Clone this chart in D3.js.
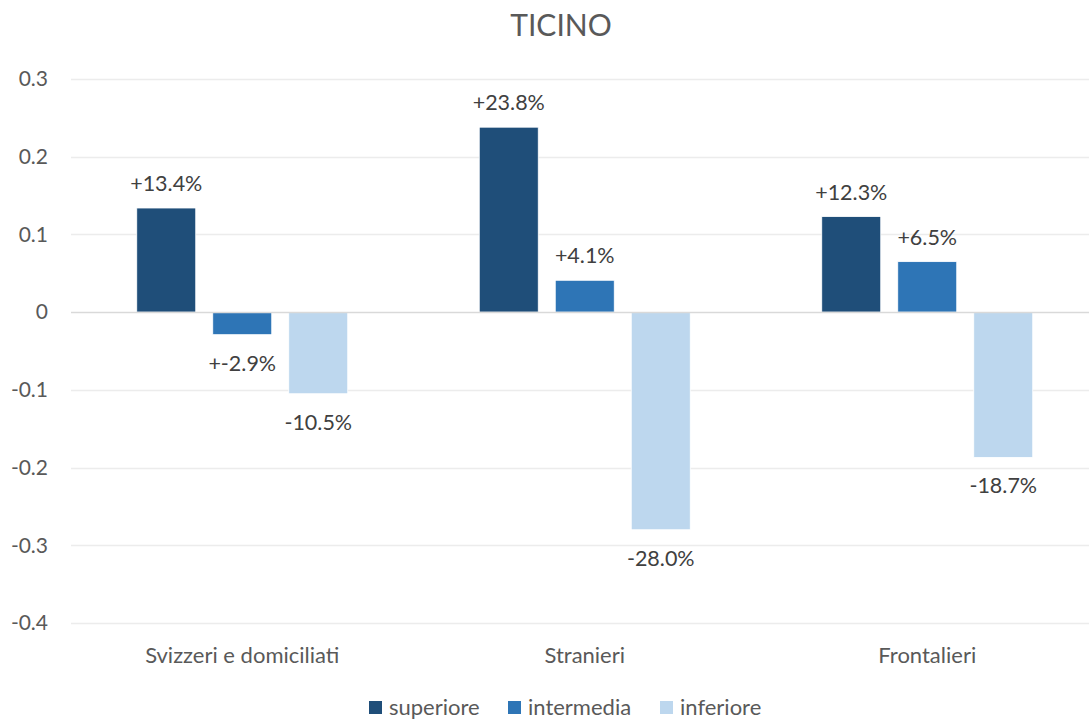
<!DOCTYPE html>
<html>
<head>
<meta charset="utf-8">
<script src="https://cdn.jsdelivr.net/npm/d3@7"></script>
<style>
  html, body { margin: 0; padding: 0; background: #fff; }
  svg { display: block; font-family: Lato, "Open Sans", sans-serif; }
</style>
</head>
<body>
<svg id="chart" width="1089" height="720"></svg>
<script>
const title = "TICINO";
const categories = ["Svizzeri e domiciliati", "Stranieri", "Frontalieri"];
const seriesNames = ["superiore", "intermedia", "inferiore"];
const superiore = [0.134, 0.238, 0.123];
const intermedia = [-0.029, 0.041, 0.065];
const inferiore = [-0.105, -0.280, -0.187];
const superioreLabels = ["+13.4%", "+23.8%", "+12.3%"];
const intermediaLabels = ["+-2.9%", "+4.1%", "+6.5%"];
const inferioreLabels = ["-10.5%", "-28.0%", "-18.7%"];
const yTicks = [0.3, 0.2, 0.1, 0, -0.1, -0.2, -0.3, -0.4];
const yTickLabels = ["0.3", "0.2", "0.1", "0", "-0.1", "-0.2", "-0.3", "-0.4"];
const colors = ["#1f4e79", "#2e75b6", "#bdd7ee"];

(function () {
const seriesValues = [superiore, intermedia, inferiore];
const seriesLabels = [superioreLabels, intermediaLabels, inferioreLabels];

const svg = d3.select("#chart");
const W = 1089;
const pLeft = 71, pRight = 1098.5, pTop = 79, pBottom = 623;

const y = d3.scaleLinear().domain([-0.4, 0.3]).range([pBottom, pTop]);
const x0 = d3.scaleBand().domain(categories).range([pLeft, pRight]).paddingInner(0).paddingOuter(0);
const bw = x0.bandwidth();
const pi = 17 / 76;
const po = (bw / 76 - 3 + pi) / 2;
const x1 = d3.scaleBand().domain(seriesNames).range([0, bw]).paddingInner(pi).paddingOuter(po);
const color = d3.scaleOrdinal().domain(seriesNames).range(colors);

// title
svg.append("text")
  .attr("x", 561).attr("y", 36)
  .attr("text-anchor", "middle")
  .attr("fill", "#595959")
  .attr("font-size", 30)
  .text(title);

// gridlines
svg.append("g").selectAll("line").data(yTicks.filter(d => d !== 0)).join("line")
  .attr("x1", pLeft).attr("x2", W)
  .attr("y1", d => Math.round(y(d)) + 0.5).attr("y2", d => Math.round(y(d)) + 0.5)
  .attr("stroke", "#ececec").attr("stroke-width", 1.5);

// y axis labels
const yAxis = d3.axisLeft(y).tickValues(yTicks).tickSize(0).tickPadding(0)
  .tickFormat((d, i) => yTickLabels[i]);
const yg = svg.append("g").attr("transform", "translate(48,0)").call(yAxis);
yg.select(".domain").remove();
yg.selectAll("text").attr("font-size", 21).attr("fill", "#595959")
  .attr("font-family", "Lato, 'Open Sans', sans-serif");

// bars
const data = [];
seriesNames.forEach((s, si) => {
  categories.forEach((c, ci) => {
    data.push({ series: s, cat: c, value: seriesValues[si][ci], label: seriesLabels[si][ci] });
  });
});

svg.append("g").selectAll("rect").data(data).join("rect")
  .attr("x", d => x0(d.cat) + x1(d.series))
  .attr("width", x1.bandwidth())
  .attr("y", d => Math.min(y(d.value), y(0)))
  .attr("height", d => Math.abs(y(d.value) - y(0)))
  .attr("fill", d => color(d.series))
  .attr("stroke", "#ffffff").attr("stroke-width", 0.8);

// zero line
svg.append("line")
  .attr("x1", pLeft).attr("x2", W)
  .attr("y1", Math.round(y(0)) + 0.5).attr("y2", Math.round(y(0)) + 0.5)
  .attr("stroke", "#d9d9d9").attr("stroke-width", 1.5);

// data labels
svg.append("g").selectAll("text").data(data).join("text")
  .attr("x", d => x0(d.cat) + x1(d.series) + x1.bandwidth() / 2)
  .attr("y", d => d.value >= 0 ? y(d.value) - 17 : y(d.value) + 36)
  .attr("text-anchor", "middle")
  .attr("font-size", 21.5)
  .attr("fill", "#404040")
  .text(d => d.label);

// category labels
const xAxis = d3.axisBottom(x0).tickSize(0).tickPadding(0);
const xg = svg.append("g").attr("transform", "translate(0,647)").call(xAxis);
xg.select(".domain").remove();
xg.selectAll("text").attr("font-size", 22).attr("fill", "#595959")
  .attr("font-family", "Lato, 'Open Sans', sans-serif");

// legend
const legendX = [369, 508, 660];
const lg = svg.append("g");
seriesNames.forEach((s, i) => {
  lg.append("rect").attr("x", legendX[i]).attr("y", 701).attr("width", 13).attr("height", 13)
    .attr("fill", color(s));
  lg.append("text").attr("x", legendX[i] + 20).attr("y", 715)
    .attr("font-size", 22).attr("fill", "#595959").text(s);
});
})();
</script>
</body>
</html>
